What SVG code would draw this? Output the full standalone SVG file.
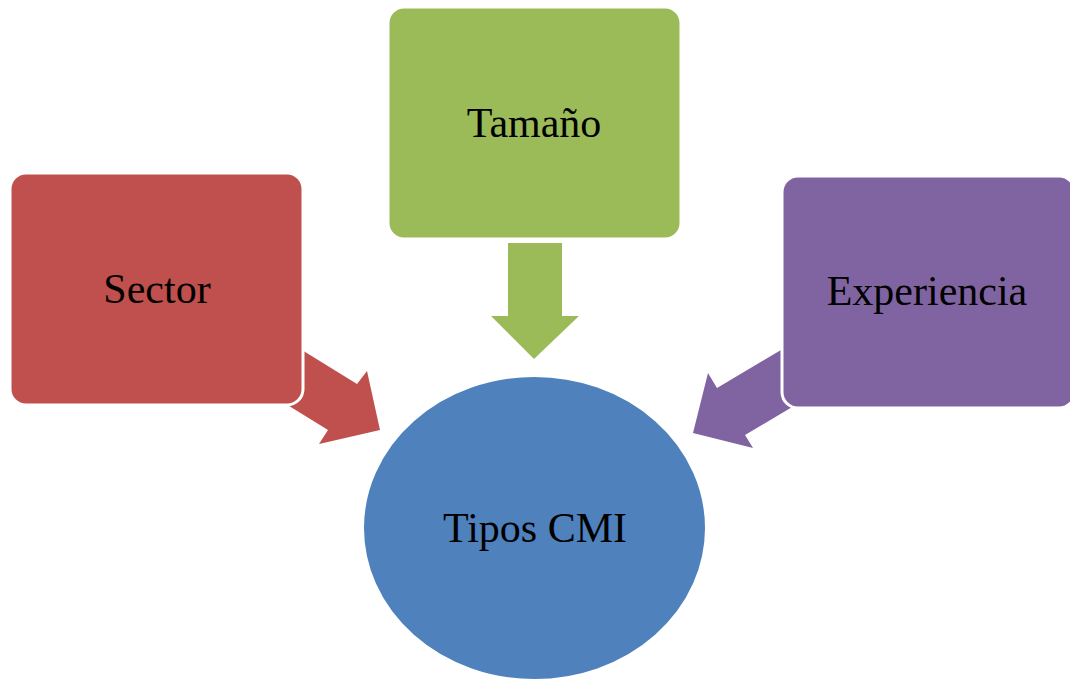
<svg xmlns="http://www.w3.org/2000/svg" width="1070" height="680" viewBox="0 0 1070 680">
<style>
.box{stroke:#fff;stroke-width:3}
.lbl{font-family:"Liberation Serif","Times New Roman",serif;font-size:42px;fill:#000;text-anchor:middle}
</style>
<rect width="1070" height="680" fill="#fff"/>
<g id="connectors">
<polygon points="289,342 357,384 367,371 380,430 319,444 328,430 260,388" fill="#C0504D"/>
<polygon points="508,243 562,243 562,316 579,316 534,359 491,316 508,316" fill="#9BBB59"/>
<polygon points="786,347 717,388 708,373 693,433 753,448 745,435 814,394" fill="#8064A2"/>
</g>
<g id="sector">
<rect class="box" x="10" y="173" width="293" height="232" rx="16" fill="#C0504D"/>
<text class="lbl" x="157" y="303">Sector</text>
</g>
<g id="tamano">
<rect class="box" x="388" y="7" width="293" height="232" rx="16" fill="#9BBB59"/>
<text class="lbl" x="534" y="137">Tamaño</text>
</g>
<g id="experiencia">
<rect class="box" x="782" y="176" width="293" height="232" rx="16" fill="#8064A2"/>
<text class="lbl" x="927" y="305">Experiencia</text>
</g>
<g id="tipos">
<ellipse cx="534.5" cy="528" rx="171.5" ry="152" fill="#4F81BD" stroke="#fff" stroke-width="2"/>
<text class="lbl" x="535" y="542">Tipos CMI</text>
</g>
</svg>
